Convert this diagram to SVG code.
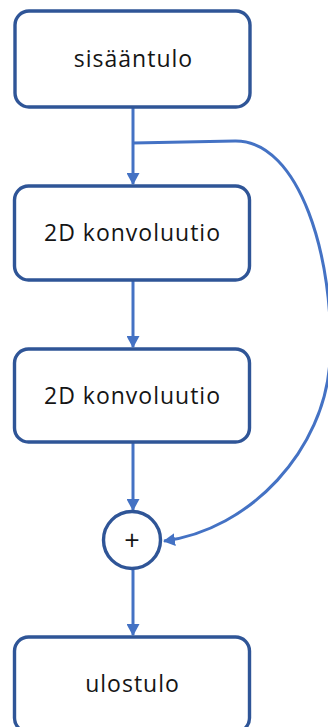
<svg xmlns="http://www.w3.org/2000/svg" width="328" height="727" viewBox="0 0 328 727">
  <style>
    .box { fill: #ffffff; stroke: #2F5597; stroke-width: 3.4; }
    .lbl { font-family: "Open Sans", "Noto Sans", sans-serif; font-size: 23px; letter-spacing: 1px; fill: #151515; text-anchor: middle; }
    .plus { font-family: "Open Sans", "Noto Sans", sans-serif; font-size: 27px; fill: #151515; text-anchor: middle; }
    .edge { fill: none; stroke: #4472C4; stroke-width: 3; }
  </style>
  <defs>
    <marker id="arrow" markerWidth="13" markerHeight="13" refX="11" refY="6.5" orient="auto" markerUnits="userSpaceOnUse">
      <path d="M0,0 L12,6.5 L0,13 Z" fill="#4472C4"/>
    </marker>
  </defs>

  <g id="connectors">
    <line class="edge" x1="133" y1="108" x2="133" y2="184" marker-end="url(#arrow)"/>
    <line class="edge" x1="133" y1="281" x2="133" y2="347" marker-end="url(#arrow)"/>
    <line class="edge" x1="133" y1="442" x2="133" y2="510" marker-end="url(#arrow)"/>
    <line class="edge" x1="133" y1="570" x2="133" y2="635" marker-end="url(#arrow)"/>
    <!-- residual skip path from input to the adder -->
    <path class="edge" d="M133,143 L235,141 C300,140 335,260 330,360 C325,450 250,530 164,541" marker-end="url(#arrow)"/>
  </g>

  <g id="input">
    <rect class="box" x="15" y="11" width="235" height="96" rx="14"/>
    <text class="lbl" x="133.5" y="67">sisääntulo</text>
  </g>

  <g id="conv1">
    <rect class="box" x="14.5" y="186" width="235" height="94" rx="14"/>
    <text class="lbl" x="132.5" y="241">2D konvoluutio</text>
  </g>

  <g id="conv2">
    <rect class="box" x="14.5" y="349" width="235" height="93" rx="14"/>
    <text class="lbl" x="132.5" y="404">2D konvoluutio</text>
  </g>

  <g id="add">
    <circle class="box" cx="132" cy="540" r="28.5"/>
    <text class="plus" x="132" y="549.5">+</text>
  </g>

  <g id="output">
    <rect class="box" x="14.5" y="637" width="235" height="95" rx="14"/>
    <text class="lbl" x="132.5" y="692">ulostulo</text>
  </g>
</svg>
